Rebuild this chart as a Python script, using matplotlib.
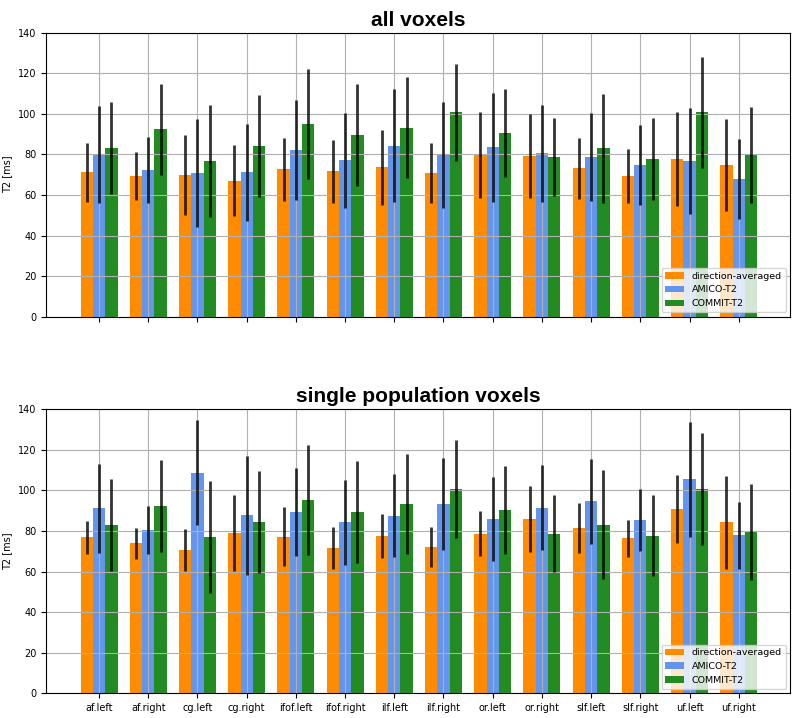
import numpy as np
import matplotlib as mpl
mpl.use('Agg')
import matplotlib.pyplot as plt

tracts = ["af.left", "af.right", "cg.left", "cg.right", "ifof.left", "ifof.right",
          "ilf.left", "ilf.right", "or.left", "or.right", "slf.left", "slf.right",
          "uf.left", "uf.right"]

# all voxels
avg_all = [71.1, 69.3, 69.7, 66.9, 72.6, 71.6, 73.6, 70.7, 79.7, 79.2, 73.1, 69.3, 77.7, 74.6]
avg_all_sd = [14.5, 12.0, 19.8, 17.5, 15.4, 15.4, 18.5, 14.9, 21.3, 20.8, 14.9, 13.3, 23.4, 22.6]
amico_all = [79.9, 72.5, 70.7, 71.1, 82.0, 77.2, 84.3, 79.7, 83.5, 80.5, 78.7, 74.6, 76.7, 68.0]
amico_all_sd = [24.0, 16.3, 26.7, 24.0, 24.6, 23.4, 27.8, 26.3, 27.0, 23.8, 21.5, 19.7, 26.0, 19.7]

# single population voxels
avg_single = [76.9, 73.9, 70.7, 79.0, 77.2, 71.6, 77.7, 72.1, 78.7, 85.8, 81.5, 76.4, 90.9, 84.3]
avg_single_sd = [8.0, 7.5, 10.3, 18.5, 14.4, 10.2, 10.9, 10.0, 11.2, 16.2, 12.4, 9.0, 16.7, 22.9]
amico_single = [91.2, 80.5, 108.8, 87.7, 89.4, 84.3, 87.6, 93.2, 85.8, 91.4, 94.6, 85.3, 105.5, 77.9]
amico_single_sd = [22.0, 12.0, 26.0, 29.4, 21.8, 21.0, 20.4, 22.7, 20.8, 21.0, 21.0, 15.4, 28.4, 16.6]

# COMMIT-T2 is the same in both panels
commit = [83.0, 92.3, 76.9, 84.3, 95.1, 89.4, 93.2, 100.7, 90.4, 78.7, 83.0, 77.7, 100.7, 79.7]
commit_sd = [22.7, 22.5, 27.6, 25.2, 27.1, 25.2, 24.7, 24.0, 21.7, 19.0, 26.9, 20.1, 27.4, 23.7]


def draw_panel(ax, avg, avg_sd, amico, amico_sd, title, show_labels):
    x = np.arange(len(tracts))
    w = 0.25
    ekw = dict(elinewidth=2, alpha=0.8)
    ax.bar(x - w, avg, w, yerr=avg_sd, color="darkorange", ecolor="black",
           error_kw=ekw, label="direction-averaged")
    ax.bar(x, amico, w, yerr=amico_sd, color="cornflowerblue", ecolor="black",
           error_kw=ekw, label="AMICO-T2")
    ax.bar(x + w, commit, w, yerr=commit_sd, color="forestgreen", ecolor="black",
           error_kw=ekw, label="COMMIT-T2")
    ax.set_xticks(x)
    if show_labels:
        ax.set_xticklabels(tracts, fontsize=7)
    else:
        ax.set_xticklabels([])
    ax.set_xlim(-1.07, len(tracts) + 0.05)
    ax.set_ylim(0, 140)
    ax.set_yticks(range(0, 141, 20))
    ax.tick_params(axis="y", labelsize=7)
    ax.set_ylabel("T2 [ms]", fontsize=7)
    ax.grid(True, color="#b0b0b0", linewidth=0.8)
    ax.set_title(title, fontsize=15, fontweight="bold", family="Liberation Sans", pad=5)
    ax.legend(loc="lower right", fontsize=6.8)


fig = plt.figure(figsize=(8, 7.18), dpi=100)
ax1 = fig.add_axes([0.058, 0.559, 0.930, 0.3955])
ax2 = fig.add_axes([0.058, 0.0344, 0.930, 0.3956])

draw_panel(ax1, avg_all, avg_all_sd, amico_all, amico_all_sd, "all voxels", False)
draw_panel(ax2, avg_single, avg_single_sd, amico_single, amico_single_sd,
           "single population voxels", True)

plt.savefig("out.png", dpi=100)
plt.close(fig)
